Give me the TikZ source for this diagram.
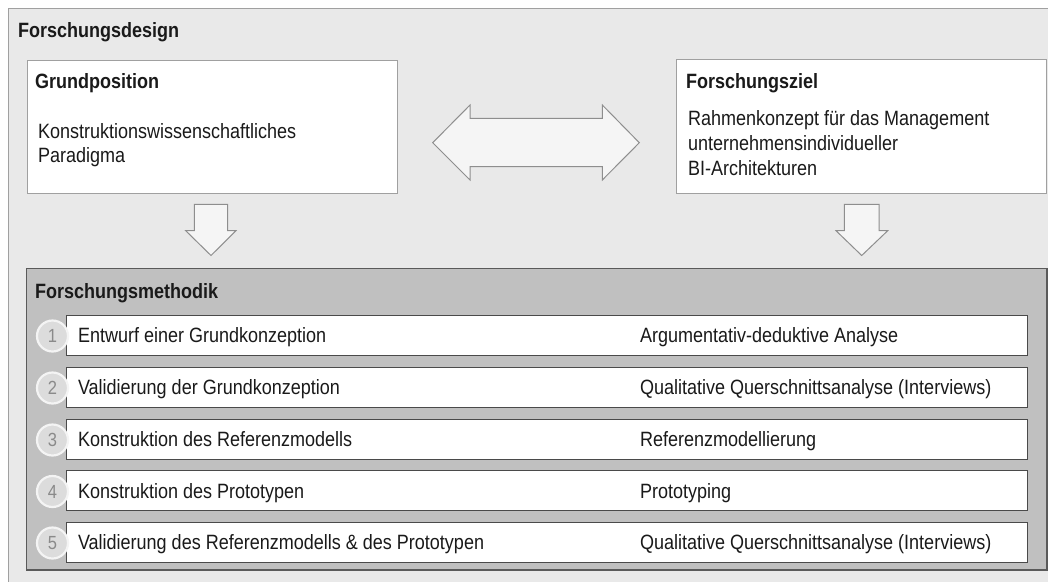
\documentclass[tikz,border=0pt]{standalone}
\usepackage{fontspec}
\setmainfont[FakeStretch=0.87]{Liberation Sans}
\definecolor{outerfill}{HTML}{E9E9E9}
\definecolor{outerline}{HTML}{A0A0A0}
\definecolor{methfill}{HTML}{C0C0C0}
\definecolor{methline}{HTML}{5A5A5A}
\definecolor{rowline}{HTML}{4A4A4A}
\definecolor{arrowfill}{HTML}{F5F5F5}
\definecolor{arrowline}{HTML}{8E8E8E}
\definecolor{numfill}{HTML}{DCDCDC}
\definecolor{numline}{HTML}{F4F4F4}
\definecolor{numtext}{HTML}{8A8A8A}
\definecolor{ink}{HTML}{1A1A1A}
\begin{document}
\begin{tikzpicture}[x=1pt,y=-1pt,
  every node/.style={inner sep=0pt, outer sep=0pt, text=ink},
  txt/.style={anchor=base west, font=\fontsize{20.7}{24}\selectfont},
  ttl/.style={anchor=base west, font=\fontsize{20.7}{24}\selectfont\bfseries},
  whitebox/.style={draw=outerline, fill=white, line width=1pt, anchor=north west},
  rowbox/.style={draw=rowline, fill=white, line width=1pt, anchor=north west,
    minimum width=960.6pt, minimum height=40pt},
  numdisc/.style={circle, minimum size=31pt, fill=numfill, draw=numline,
    line width=2.2pt, text=numtext, font=\fontsize{19}{20}\selectfont},
  blockarrow/.style={draw=arrowline, fill=arrowfill, line width=1pt, line join=miter}
]
\clip (0,0) rectangle (1048,581);
% outer frame (runs off the page on the right and at the bottom)
\draw[fill=outerfill, draw=outerline, line width=1pt] (8.5,8.5) rectangle (1070,600);
\node[ttl] (design) at (18,37.5) {Forschungsdesign};

% Grundposition
\node[whitebox, minimum width=370pt, minimum height=133pt] (gp) at (27,60) {};
\node[ttl] (gpt) at (35,88.5) {Grundposition};
\node[txt] (gp1) at (38,138.5) {Konstruktionswissenschaftliches};
\node[txt] (gp2) at (38,162.5) {Paradigma};

% Forschungsziel
\node[whitebox, minimum width=370pt, minimum height=134pt] (fz) at (676,59.5) {};
\node[ttl] (fzt) at (686,88.5) {Forschungsziel};
\node[txt] (fz1) at (688,125.5) {Rahmenkonzept für das Management};
\node[txt] (fz2) at (688,150) {unternehmensindividueller};
\node[txt] (fz3) at (688,175) {BI-Architekturen};

% double block arrow between the two upper boxes
\draw[blockarrow] (432.7,142.7) -- (470,105) -- (470,118.3) -- (602.3,118.3)
  -- (602.3,105) -- (639.3,142.7) -- (602.3,180) -- (602.3,166.7)
  -- (470,166.7) -- (470,180) -- cycle;

% down arrows
\draw[blockarrow] (194.3,204.3) -- (227.7,204.3) -- (227.7,230.7) -- (236,230.7)
  -- (211,255.5) -- (185.7,230.7) -- (194.3,230.7) -- cycle;
\draw[blockarrow] (844.3,204.3) -- (879,204.3) -- (879,230.7) -- (887.7,230.7)
  -- (861.7,255.5) -- (836,230.7) -- (844.3,230.7) -- cycle;

% Forschungsmethodik
\node[draw=methline, fill=methfill, line width=1.5pt, anchor=north west,
  minimum width=1020.5pt, minimum height=301.5pt] (meth) at (26.5,268.5) {};
\node[ttl] (metht) at (35,298.5) {Forschungsmethodik};

\foreach \i/\y/\a/\b in {
  1/315/{Entwurf einer Grundkonzeption}/{Argumentativ-deduktive Analyse},
  2/367/{Validierung der Grundkonzeption}/{Qualitative Querschnittsanalyse (Interviews)},
  3/419/{Konstruktion des Referenzmodells}/{Referenzmodellierung},
  4/470.5/{Konstruktion des Prototypen}/{Prototyping},
  5/522/{Validierung des Referenzmodells \& des Prototypen}/{Qualitative Querschnittsanalyse (Interviews)}}
{
  \node[rowbox] (row\i) at (66.7,\y) {};
  \node[numdisc] (num\i) at (52.5,\y+21) {\i};
  \node[txt] (step\i) at (78,\y+27.5) {\a};
  \node[txt] (meth\i) at (640,\y+27.5) {\b};
}
\end{tikzpicture}
\end{document}
